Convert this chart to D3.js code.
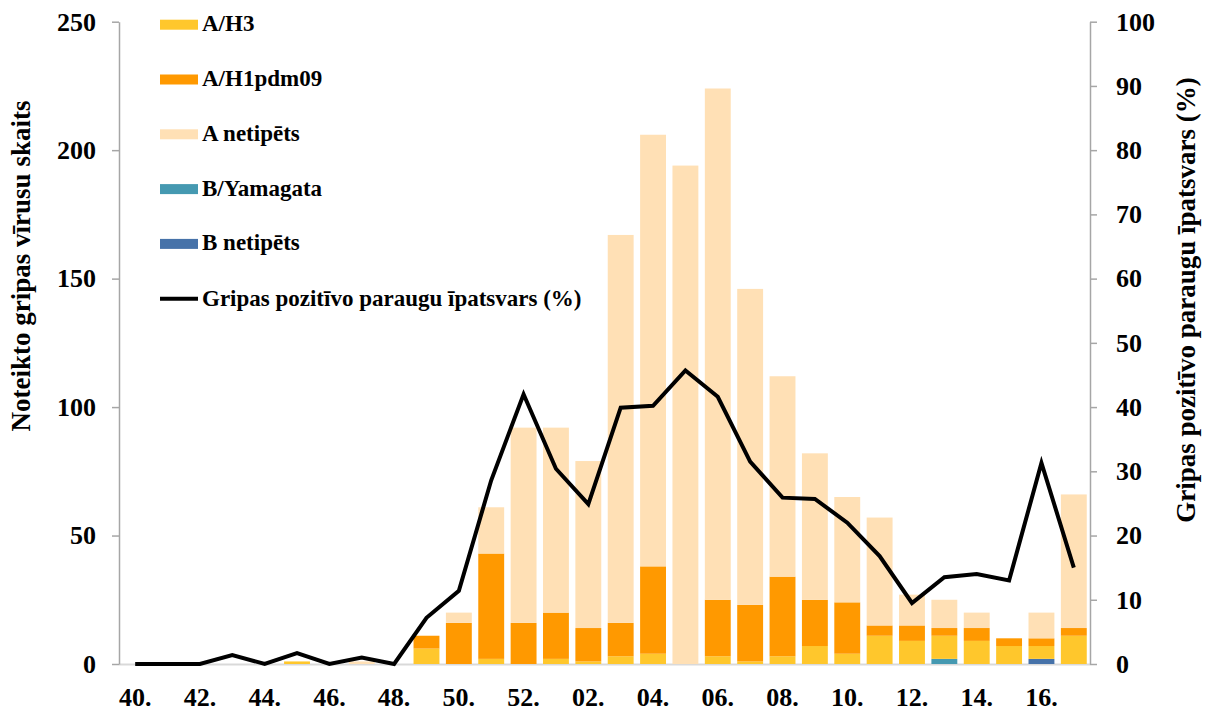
<!DOCTYPE html>
<html>
<head>
<meta charset="utf-8">
<script src="https://cdn.jsdelivr.net/npm/d3@7"></script>
<style>
  body { margin: 0; background: #fff; }
  svg text { font-family: "Liberation Serif", "Times New Roman", serif; font-weight: bold; fill: #000; }
</style>
</head>
<body>
<svg width="1212" height="711"></svg>
<script>
var weeks = ["40","41","42","43","44","45","46","47","48","49","50","51","52",
             "01","02","03","04","05","06","07","08","09","10","11","12","13","14","15","16","17"];

var aH3   = [0,0,0,0,0,1,0,0,0,6,0,2,0,2,1,3,4,0,3,1,3,7,4,11,9,9,9,7,5,11];
var aH1   = [0,0,0,0,0,0,0,0,0,5,16,41,16,18,13,13,34,0,22,22,31,18,20,4,6,3,5,3,3,3];
var aNet  = [0,0,0,0,0,0,0,1,0,0,4,18,76,72,65,151,168,194,199,123,78,57,41,42,12,11,6,0,10,52];
var bYam  = [0,0,0,0,0,0,0,0,0,0,0,0,0,0,0,0,0,0,0,0,0,0,0,0,0,2,0,0,0,0];
var bNet  = [0,0,0,0,0,0,0,0,0,0,0,0,0,0,0,0,0,0,0,0,0,0,0,0,0,0,0,0,2,0];

var positivePct = [0,0,0,1.4,0,1.7,0,1.0,0,7.2,11.4,28.6,42.0,30.4,24.9,39.9,40.2,45.7,41.6,31.5,
                   25.9,25.7,22.0,16.8,9.5,13.5,14.0,13.0,31.3,15.0];

var leftTicks = [0,50,100,150,200,250];
var rightTicks = [0,10,20,30,40,50,60,70,80,90,100];

var series = [
  {key: "bYam", name: "B/Yamagata", color: "#4599b1", values: bYam},
  {key: "bNet", name: "B netipēts", color: "#4672a9", values: bNet},
  {key: "aH3",  name: "A/H3",       color: "#ffc72c", values: aH3},
  {key: "aH1",  name: "A/H1pdm09",  color: "#ff9900", values: aH1},
  {key: "aNet", name: "A netipēts", color: "#ffe0b5", values: aNet}
];
var legendOrder = ["aH3","aH1","aNet","bYam","bNet"];

var svg = d3.select("svg");

var table = weeks.map(function(w, i) {
  var row = {week: w};
  series.forEach(function(s) { row[s.key] = s.values[i]; });
  return row;
});

var x = d3.scaleBand()
    .domain(weeks)
    .range([119, 1090])
    .paddingInner(0.2)
    .paddingOuter(0.1);

var y = d3.scaleLinear().domain([0, 250]).range([664, 21.7]);
var y2 = d3.scaleLinear().domain([0, 100]).range([664, 21.7]);

var stack = d3.stack().keys(series.map(function(s) { return s.key; }));
var layers = stack(table);

// baseline
svg.append("line")
    .attr("x1", 119).attr("x2", 1090)
    .attr("y1", 664.5).attr("y2", 664.5)
    .attr("stroke", "#d9d9d9")
    .attr("stroke-width", 2);

svg.append("g").selectAll("g")
  .data(layers)
  .enter().append("g")
    .attr("fill", function(d, i) { return series[i].color; })
  .selectAll("rect")
  .data(function(d) { return d; })
  .enter().append("rect")
    .attr("x", function(d) { return x(d.data.week); })
    .attr("y", function(d) { return y(d[1]); })
    .attr("width", x.bandwidth())
    .attr("height", function(d) { return y(d[0]) - y(d[1]); });

var line = d3.line()
    .x(function(d, i) { return x(weeks[i]) + x.bandwidth() / 2; })
    .y(function(d) { return y2(d); });

svg.append("path")
    .datum(positivePct)
    .attr("fill", "none")
    .attr("stroke", "#000")
    .attr("stroke-width", 4)
    .attr("stroke-linejoin", "miter")
    .attr("d", line);

// axes
var gLeft = svg.append("g")
    .attr("transform", "translate(119,0)")
    .call(d3.axisLeft(y).tickValues(leftTicks).tickSize(7).tickSizeOuter(0).tickPadding(16));

var gRight = svg.append("g")
    .attr("transform", "translate(1090,0)")
    .call(d3.axisRight(y2).tickValues(rightTicks).tickSize(7).tickSizeOuter(0).tickPadding(19));

var gBottom = svg.append("g")
    .attr("transform", "translate(0,664)")
    .call(d3.axisBottom(x)
      .tickValues(weeks.filter(function(d, i) { return i % 2 === 0; }))
      .tickSize(0).tickSizeOuter(0).tickPadding(24)
      .tickFormat(function(d) { return d + "."; }));

[gLeft, gRight].forEach(function(g) {
  g.select(".domain").attr("stroke", "#a6a6a6").attr("stroke-width", 1.5);
  g.selectAll(".tick line").attr("stroke", "#a6a6a6").attr("stroke-width", 1.5);
});
gBottom.select(".domain").remove();
svg.selectAll(".tick text")
    .attr("font-family", "Liberation Serif")
    .attr("font-weight", "bold")
    .attr("font-size", 26)
    .attr("fill", "#000");

// axis titles
svg.append("text")
    .attr("transform", "translate(30,266) rotate(-90)")
    .attr("text-anchor", "middle")
    .attr("font-size", 27)
    .text("Noteikto gripas vīrusu skaits");

svg.append("text")
    .attr("transform", "translate(1195,300) rotate(-90)")
    .attr("text-anchor", "middle")
    .attr("font-size", 27)
    .text("Gripas pozitīvo paraugu īpatsvars (%)");

// legend
var legend = svg.append("g").attr("transform", "translate(160,0)");
legendOrder.forEach(function(k, i) {
  var s = series.find(function(d) { return d.key === k; });
  var cy = 24.7 + i * 54.8;
  legend.append("rect")
      .attr("x", 0).attr("y", cy - 5)
      .attr("width", 38).attr("height", 10)
      .attr("fill", s.color);
  legend.append("text")
      .attr("x", 42).attr("y", cy + 6.5)
      .attr("font-size", 23)
      .text(s.name);
});
var cyLine = 24.7 + 5 * 54.8;
legend.append("line")
    .attr("x1", 0).attr("x2", 38)
    .attr("y1", cyLine).attr("y2", cyLine)
    .attr("stroke", "#000").attr("stroke-width", 4);
legend.append("text")
    .attr("x", 42).attr("y", cyLine + 7)
    .attr("font-size", 23)
    .text("Gripas pozitīvo paraugu īpatsvars (%)");
</script>
</body>
</html>
